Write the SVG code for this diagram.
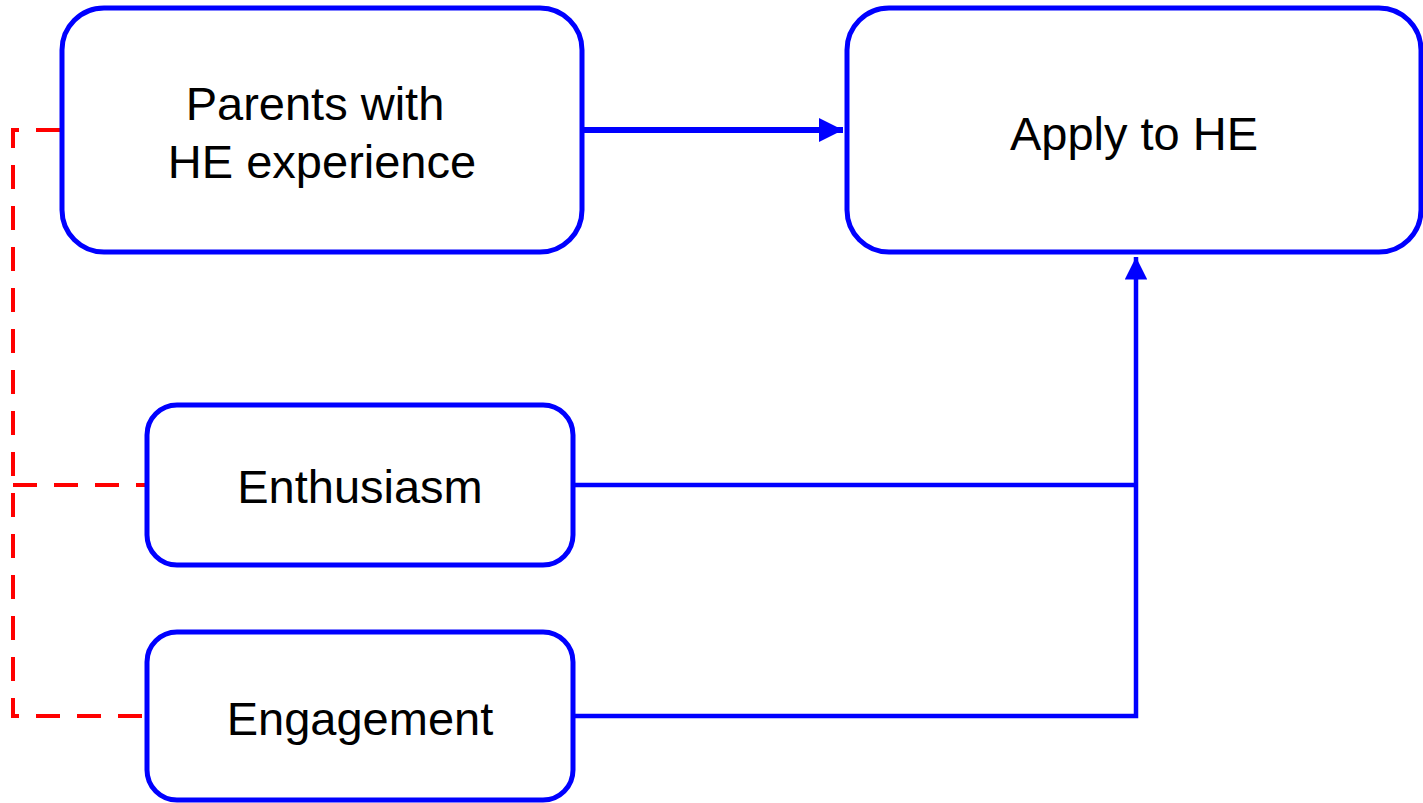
<svg xmlns="http://www.w3.org/2000/svg" width="1423" height="803" viewBox="0 0 1423 803">
<style>
.box{fill:#fff;stroke:#0000ff;stroke-width:5}
.lbl{font-family:"Liberation Sans",Arial,sans-serif;font-size:47px;fill:#000;text-anchor:middle}
.blue{fill:none;stroke:#0000ff;stroke-width:4.5}
.red{fill:none;stroke:#ff0000;stroke-width:4;stroke-dasharray:24 17}
</style>
<defs>
<marker id="ah" markerWidth="5" markerHeight="5" refX="5" refY="2.5" orient="auto" markerUnits="strokeWidth">
<path d="M0,0 L5,2.5 L0,5 Z" fill="#0000ff"/>
</marker>
<marker id="ah2" markerWidth="4" markerHeight="4" refX="4" refY="2" orient="auto" markerUnits="strokeWidth">
<path d="M0,0 L4,2 L0,4 Z" fill="#0000ff"/>
</marker>
</defs>
<g id="connectors">
<path class="red" d="M60,130 H13 V716 H145"/>
<path class="red" d="M13,485 H145"/>
<path class="blue" style="stroke-width:6" d="M584,130 H843" marker-end="url(#ah2)"/>
<path class="blue" d="M575,485 H1136"/>
<path class="blue" d="M575,716 H1136 V257" marker-end="url(#ah)"/>
</g>
<g id="parents">
<rect class="box" x="62" y="8" width="520" height="244" rx="42"/>
<text class="lbl" x="315" y="120">Parents with</text>
<text class="lbl" x="322" y="178">HE experience</text>
</g>
<g id="apply">
<rect class="box" x="847" y="8" width="574" height="244" rx="42"/>
<text class="lbl" x="1134" y="150">Apply to HE</text>
</g>
<g id="enthusiasm">
<rect class="box" x="147" y="405" width="426" height="160" rx="30"/>
<text class="lbl" x="360" y="503">Enthusiasm</text>
</g>
<g id="engagement">
<rect class="box" x="147" y="632" width="426" height="168" rx="30"/>
<text class="lbl" x="360" y="735">Engagement</text>
</g>
</svg>
